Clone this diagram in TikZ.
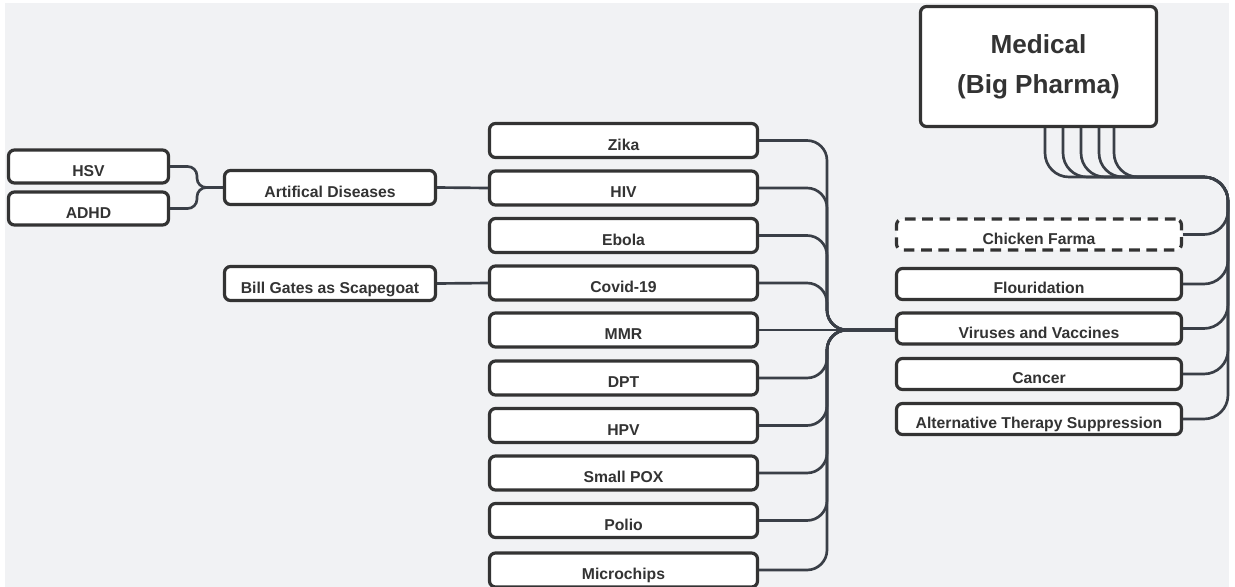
\documentclass[tikz,border=0pt]{standalone}
\usepackage{fontspec}
\setmainfont{Liberation Sans}
\usetikzlibrary{calc}

\definecolor{canvas}{RGB}{241,242,244}
\definecolor{boxline}{RGB}{51,51,51}
\definecolor{linkline}{RGB}{58,63,71}

\tikzset{every picture/.style={line width=0.75pt}}
\tikzset{
  topic/.style={draw=boxline, line width=2.4pt, fill=white, rounded corners=4.5pt, text=boxline,
    font=\fontsize{11.8}{14}\selectfont\bfseries, inner sep=0pt, text height=14.8pt, text depth=0.3pt},
  midbox/.style={topic, minimum width=201pt, minimum height=25.5pt},
  sidebox/.style={topic, minimum width=213.75pt, minimum height=23.25pt},
  leafbox/.style={topic, minimum width=120pt, minimum height=24.75pt},
  branchbox/.style={topic, minimum width=158.25pt, minimum height=25.5pt},
  headbox/.style={draw=boxline, line width=2.4pt, fill=white, rounded corners=4.5pt, text=boxline,
    font=\fontsize{19.6}{30}\selectfont\bfseries, align=center, minimum width=177pt, minimum height=90pt},
  link/.style={draw=linkline, line width=2pt},
}

\begin{document}
\begin{tikzpicture}[x=0.75pt,y=0.75pt,yscale=-1,xscale=1]

\useasboundingbox (0,0) rectangle (1235,586);
\fill [canvas] (5,3) rectangle (1229,600);

% Text Node
\node (Medical) at (1038.5,66.5) [headbox] {Medical\\(Big Pharma)};
% Text Node
\node (Chicken) at (1039,234.5) [sidebox, dash pattern=on 8pt off 5pt] {Chicken Farma};
\node (Flouridation) at (1039,284) [sidebox] {Flouridation};
\node (Viruses) at (1039,328.5) [sidebox] {Viruses and Vaccines};
\node (Cancer) at (1039,374) [sidebox] {Cancer};
\node (AltTherapy) at (1039,419) [sidebox] {Alternative Therapy Suppression};
% Text Node
\node (Zika) at (623.5,140.5) [midbox] {Zika};
\node (HIV) at (623.5,188) [midbox] {HIV};
\node (Ebola) at (623.5,235.5) [midbox] {Ebola};
\node (Covid) at (623.5,283) [midbox] {Covid-19};
\node (MMR) at (623.5,330) [midbox] {MMR};
\node (DPT) at (623.5,378) [midbox] {DPT};
\node (HPV) at (623.5,425.5) [midbox] {HPV};
\node (SmallPOX) at (623.5,473) [midbox] {Small POX};
\node (Polio) at (623.5,520.5) [midbox] {Polio};
\node (Microchips) at (623.5,570) [midbox] {Microchips};
% Text Node
\node (Artifical) at (330,187.5) [branchbox] {Artifical Diseases};
\node (BillGates) at (330,283.5) [branchbox] {Bill Gates as Scapegoat};
\node (HSV) at (88.5,166.5) [leafbox] {HSV};
\node (ADHD) at (88.5,208.5) [leafbox] {ADHD};

\coordinate (leftjoin) at (197,187.5);
\coordinate (hub) at (827,330);
\coordinate (bend) at (1228,177);

% Connection
\draw [link, rounded corners=7pt] (HSV.east) -| (leftjoin) -- (Artifical.west);
\draw [link, rounded corners=7pt] (ADHD.east) -| (leftjoin) -- (Artifical.west);
% Connection
\draw [link] (Artifical.east) -- (HIV.west);
\draw [link] (BillGates.east) -- (Covid.west);
% Connection
\foreach \n in {Zika,HIV,Ebola,Covid,DPT,HPV,SmallPOX,Polio,Microchips}
  \draw [link, rounded corners=15pt] (\n.east) -| (hub) -- (hub -| Viruses.west);
\draw [link] (MMR.east) -- (hub -| Viruses.west);
% Connection
\foreach \dx/\n in {6.5/AltTherapy, 24.5/Cancer, 42.5/Viruses, 60.5/Flouridation, 75.5/Chicken}
  \draw [link, rounded corners=18pt] ($(Medical.south)+(\dx,0)$) |- (bend) |- (\n.east);

\end{tikzpicture}
\end{document}
